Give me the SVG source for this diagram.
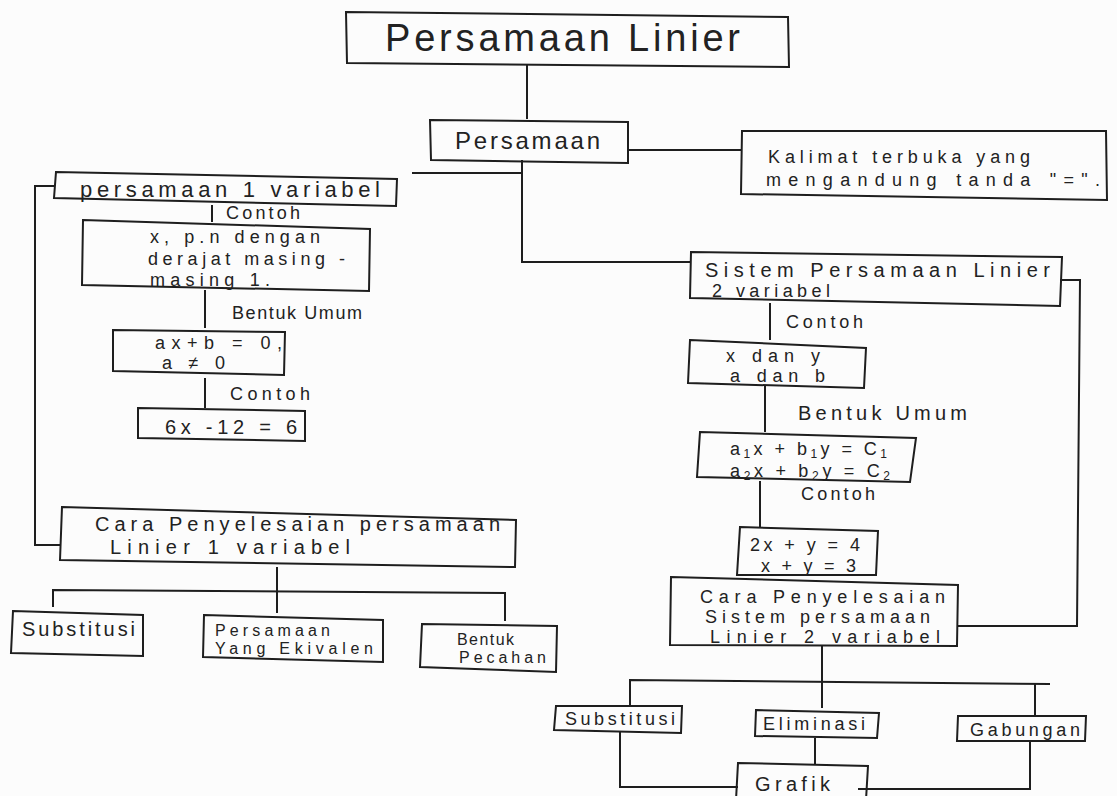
<svg xmlns="http://www.w3.org/2000/svg" width="1117" height="796" viewBox="0 0 1117 796">
<style>
.b{fill:none;stroke:#1e1e1e;stroke-width:2;stroke-linejoin:miter}
.c{fill:none;stroke:#1e1e1e;stroke-width:2}
text{font-family:"Liberation Sans",Arial,sans-serif;fill:#222}
.l{font-size:16px}
.k{font-size:18px}
.m{font-size:18px}
.n{font-size:20px}
.s{font-size:12px}
</style>
<rect width="1117" height="796" fill="#fcfcfc"/>
<g id="connectors">
<path class="c" d="M527 65 V119"/>
<path class="c" d="M628 150 H741"/>
<path class="c" d="M522 160 V262 H690"/>
<path class="c" d="M412 173 H522"/>
<path class="c" d="M55 186 H35 V545 H60"/>
<path class="c" d="M212 205 V222"/>
<path class="c" d="M205 290 V328"/>
<path class="c" d="M205 378 V408"/>
<path class="c" d="M277 567 V613"/>
<path class="c" d="M53 607 V590 L505 593 V621"/>
<path class="c" d="M1060 280 H1080 L1077 626 H958"/>
<path class="c" d="M770 303 V340"/>
<path class="c" d="M765 386 V432"/>
<path class="c" d="M760 481 V527"/>
<path class="c" d="M822 646 V708"/>
<path class="c" d="M630 705 V680 L1050 684"/>
<path class="c" d="M1035 684 V715"/>
<path class="c" d="M620 731 V787 H738"/>
<path class="c" d="M815 738 V764"/>
<path class="c" d="M1030 741 V789 H858"/>
</g>
<g id="n-top"><path class="b" d="M346 12 L788 17 L789 67 L347 63 Z"/><text x="385" y="51" style="font-size:38px" textLength="355">Persamaan Linier</text></g>
<g id="n-persamaan"><path class="b" d="M430 120 L628 122 L628 163 L431 160 Z"/><text x="455" y="149" style="font-size:24px" textLength="145">Persamaan</text></g>
<g id="n-kalimat"><path class="b" d="M742 131 L1106 131 L1107 200 L741 194 Z"/><text x="768" y="163" class="m" textLength="262">Kalimat terbuka yang</text><text x="766" y="186" class="m" textLength="334">mengandung tanda "=".</text></g>
<g id="n-p1v"><path class="b" d="M56 172 L397 179 L396 206 L54 198 Z"/><text x="80" y="197" style="font-size:22px" textLength="300">persamaan 1 variabel</text></g>
<text x="226" y="219" class="k" textLength="74">Contoh</text>
<g id="n-xpn"><path class="b" d="M83 220 L370 229 L369 291 L82 285 Z"/><text x="150" y="243" class="m" textLength="170">x, p.n dengan</text><text x="148" y="265" class="m" textLength="197">derajat masing -</text><text x="150" y="286" class="m" textLength="120">masing 1.</text></g>
<text x="232" y="319" class="k" textLength="130">Bentuk Umum</text>
<g id="n-axb"><path class="b" d="M113 330 L285 332 L284 375 L113 371 Z"/><text x="155" y="349" class="m" textLength="127">ax+b = 0,</text><text x="162" y="369" class="m" textLength="63">a ≠ 0</text></g>
<text x="230" y="400" class="k" textLength="80">Contoh</text>
<g id="n-6x"><path class="b" d="M138 408 L305 411 L305 441 L138 438 Z"/><text x="165" y="434" class="n" textLength="132">6x -12 = 6</text></g>
<g id="n-cara1"><path class="b" d="M62 507 L516 520 L515 567 L60 560 Z"/><text x="95" y="531" class="n" textLength="405">Cara Penyelesaian persamaan</text><text x="110" y="554" class="n" textLength="240">Linier 1 variabel</text></g>
<g id="n-sub1"><path class="b" d="M13 611 L143 615 L143 656 L11 653 Z"/><text x="22" y="636" class="n" textLength="113">Substitusi</text></g>
<g id="n-pye"><path class="b" d="M204 615 L383 620 L383 662 L203 657 Z"/><text x="215" y="636" class="l" textLength="115">Persamaan</text><text x="215" y="654" class="l" textLength="158">Yang Ekivalen</text></g>
<g id="n-bp"><path class="b" d="M422 624 L557 626 L556 672 L420 667 Z"/><text x="457" y="645" class="l" textLength="57">Bentuk</text><text x="459" y="663" class="l" textLength="87">Pecahan</text></g>
<g id="n-splv"><path class="b" d="M691 252 L1062 257 L1060 306 L690 298 Z"/><text x="705" y="277" class="n" textLength="345">Sistem Persamaan Linier</text><text x="712" y="297" class="m" textLength="118">2 variabel</text></g>
<text x="786" y="328" class="k" textLength="77">Contoh</text>
<g id="n-xy"><path class="b" d="M690 340 L866 348 L864 388 L688 383 Z"/><text x="726" y="362" class="m" textLength="94">x dan y</text><text x="730" y="382" class="m" textLength="95">a dan b</text></g>
<text x="798" y="420" class="n" textLength="169">Bentuk Umum</text>
<g id="n-ab"><path class="b" d="M700 432 L916 438 L910 482 L697 477 Z"/><text x="730" y="455" class="m" textLength="157">a<tspan class="s" dy="3">1</tspan><tspan dy="-3">x + b</tspan><tspan class="s" dy="3">1</tspan><tspan dy="-3">y = C</tspan><tspan class="s" dy="3">1</tspan></text><text x="730" y="477" class="m" textLength="160">a<tspan class="s" dy="3">2</tspan><tspan dy="-3">x + b</tspan><tspan class="s" dy="3">2</tspan><tspan dy="-3">y = C</tspan><tspan class="s" dy="3">2</tspan></text></g>
<text x="801" y="500" class="k" textLength="74">Contoh</text>
<g id="n-2x"><path class="b" d="M740 527 L878 531 L876 575 L737 575 Z"/><text x="750" y="551" class="m" textLength="110">2x + y = 4</text><text x="761" y="572" class="m" textLength="95">x + y = 3</text></g>
<g id="n-cara2"><path class="b" d="M671 577 L958 585 L957 646 L670 645 Z"/><text x="700" y="603" class="m" textLength="245">Cara Penyelesaian</text><text x="705" y="623" class="m" textLength="225">Sistem persamaan</text><text x="710" y="643" class="m" textLength="230">Linier 2 variabel</text></g>
<g id="n-sub2"><path class="b" d="M556 706 L682 706 L681 733 L554 730 Z"/><text x="565" y="725" class="k" textLength="110">Substitusi</text></g>
<g id="n-elim"><path class="b" d="M756 710 L879 713 L877 738 L755 736 Z"/><text x="763" y="730" class="k" textLength="102">Eliminasi</text></g>
<g id="n-gab"><path class="b" d="M958 716 L1086 716 L1085 741 L957 741 Z"/><text x="970" y="736" class="k" textLength="110">Gabungan</text></g>
<g id="n-grafik"><path class="b" d="M738 763 L868 766 L866 800 L736 800 Z"/><text x="755" y="791" class="n" textLength="75">Grafik</text></g>
</svg>
